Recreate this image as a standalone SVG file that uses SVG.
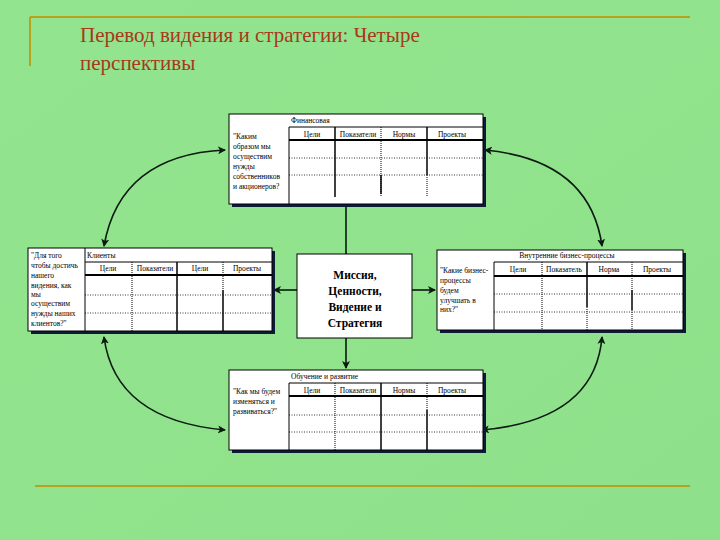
<svg xmlns="http://www.w3.org/2000/svg" width="720" height="540" viewBox="0 0 720 540">
<defs>
<marker id="ah" markerWidth="8" markerHeight="8" refX="7" refY="4" orient="auto-start-reverse" markerUnits="userSpaceOnUse"><path d="M0,0 L8,4 L0,8 L2,4 z" fill="#0a1a10"/></marker>
<linearGradient id="bg" x1="0" y1="0" x2="1" y2="1"><stop offset="0" stop-color="#92e58e"/><stop offset="1" stop-color="#8fe08a"/></linearGradient>
</defs>
<style>
.t{font-family:"Liberation Serif",serif;font-size:7.5px;fill:#000}
.box{fill:#fff;stroke:#000;stroke-width:1}
.sh{fill:#0d1a3a}
.col{stroke:#000;stroke-width:1.5}
.colg{stroke:#000;stroke-width:1;stroke-dasharray:1,1}
.row{stroke:#000;stroke-width:0.8;stroke-dasharray:1,1.5}
.hl{stroke:#000;stroke-width:1}
.hb{stroke:#000;stroke-width:2}
.con{fill:none;stroke:#0a1a10;stroke-width:1.6}
.gl{stroke:#b8a020;stroke-width:2}
</style>
<rect width="720" height="540" fill="url(#bg)"/>
<line class="gl" x1="30" y1="17" x2="690" y2="17"/>
<line class="gl" x1="30" y1="17" x2="30" y2="66"/>
<line class="gl" x1="35" y1="486" x2="690" y2="486"/>
<text x="80" y="42" font-family="Liberation Serif,serif" font-size="21" fill="#a8381a">Перевод видения и стратегии: Четыре</text>
<text x="80" y="70" font-family="Liberation Serif,serif" font-size="21" fill="#a8381a">перспективы</text>

<g id="connectors">
<line class="con" x1="346" y1="204" x2="346" y2="254"/>
<line class="con" x1="346" y1="338" x2="346" y2="368" marker-end="url(#ah)"/>
<line class="con" x1="297" y1="290" x2="274" y2="290" marker-end="url(#ah)"/>
<line class="con" x1="412" y1="290" x2="435" y2="290" marker-end="url(#ah)"/>
<path class="con" d="M225,150 Q120,155 104,246" marker-start="url(#ah)" marker-end="url(#ah)"/>
<path class="con" d="M485,150 Q590,160 602,246" marker-start="url(#ah)" marker-end="url(#ah)"/>
<path class="con" d="M104,337 Q115,420 225,430" marker-start="url(#ah)" marker-end="url(#ah)"/>
<path class="con" d="M602,337 Q595,420 482,430" marker-start="url(#ah)" marker-end="url(#ah)"/>
</g>

<g id="financial">
<rect class="sh" x="232" y="117" width="254" height="90"/>
<rect class="box" x="229" y="114" width="254" height="90"/>
<text class="t" x="291" y="123">Финансовая</text>
<line class="hl" x1="289" y1="127" x2="483" y2="127"/>
<line class="hb" x1="289" y1="140" x2="483" y2="140"/>
<line class="hl" x1="289" y1="127" x2="289" y2="204"/>
<line class="row" x1="289" y1="158" x2="483" y2="158"/>
<line class="row" x1="289" y1="175" x2="483" y2="175"/>
<line class="col" x1="335" y1="127" x2="335" y2="197"/>
<line class="colg" x1="381" y1="127" x2="381" y2="197"/>
<line class="col" x1="381" y1="175" x2="381" y2="194"/>
<line class="col" x1="427" y1="127" x2="427" y2="175"/>
<line class="colg" x1="427" y1="175" x2="427" y2="197"/>
<text class="t" x="312" y="137" text-anchor="middle">Цели</text>
<text class="t" x="358" y="137" text-anchor="middle">Показатели</text>
<text class="t" x="404" y="137" text-anchor="middle">Нормы</text>
<text class="t" x="452" y="137" text-anchor="middle">Проекты</text>
<text class="t" x="233" y="139">"Каким</text>
<text class="t" x="233" y="149">образом мы</text>
<text class="t" x="233" y="159">осуществим</text>
<text class="t" x="233" y="169">нужды</text>
<text class="t" x="233" y="179">собственников</text>
<text class="t" x="233" y="189">и акционеров?</text>
</g>

<g id="clients">
<rect class="sh" x="31" y="251" width="244" height="83"/>
<rect class="box" x="28" y="248" width="244" height="83"/>
<text class="t" x="87" y="258">Клиенты</text>
<line class="hl" x1="85" y1="262" x2="272" y2="262"/>
<line class="hb" x1="85" y1="275" x2="272" y2="275"/>
<line class="hl" x1="85" y1="248" x2="85" y2="331"/>
<line class="row" x1="85" y1="295" x2="272" y2="295"/>
<line class="row" x1="85" y1="313" x2="272" y2="313"/>
<line class="colg" x1="132" y1="262" x2="132" y2="331"/>
<line class="col" x1="177" y1="262" x2="177" y2="331"/>
<line class="colg" x1="223" y1="262" x2="223" y2="290"/>
<line class="col" x1="223" y1="290" x2="223" y2="331"/>
<text class="t" x="108" y="271" text-anchor="middle">Цели</text>
<text class="t" x="155" y="271" text-anchor="middle">Показатели</text>
<text class="t" x="200" y="271" text-anchor="middle">Цели</text>
<text class="t" x="247" y="271" text-anchor="middle">Проекты</text>
<text class="t" x="31" y="258">"Для того</text>
<text class="t" x="31" y="268">чтобы достичь</text>
<text class="t" x="31" y="278">нашего</text>
<text class="t" x="31" y="288">видения, как</text>
<text class="t" x="31" y="297">мы</text>
<text class="t" x="31" y="306">осуществим</text>
<text class="t" x="31" y="316">нужды наших</text>
<text class="t" x="31" y="326">клиентов?"</text>
</g>

<g id="internal">
<rect class="sh" x="440" y="253" width="246" height="80"/>
<rect class="box" x="437" y="250" width="246" height="80"/>
<text class="t" x="567" y="258" text-anchor="middle">Внутренние бизнес-процессы</text>
<line class="hl" x1="494" y1="262" x2="683" y2="262"/>
<line class="hb" x1="494" y1="276" x2="683" y2="276"/>
<line class="hl" x1="494" y1="262" x2="494" y2="330"/>
<line class="row" x1="494" y1="294" x2="683" y2="294"/>
<line class="row" x1="494" y1="312" x2="683" y2="312"/>
<line class="colg" x1="542" y1="262" x2="542" y2="330"/>
<line class="col" x1="587" y1="262" x2="587" y2="307"/>
<line class="colg" x1="587" y1="307" x2="587" y2="330"/>
<line class="colg" x1="632" y1="262" x2="632" y2="290"/>
<line class="col" x1="632" y1="290" x2="632" y2="310"/>
<line class="colg" x1="632" y1="310" x2="632" y2="330"/>
<text class="t" x="518" y="272" text-anchor="middle">Цели</text>
<text class="t" x="564" y="272" text-anchor="middle">Показатель</text>
<text class="t" x="609" y="272" text-anchor="middle">Норма</text>
<text class="t" x="657" y="272" text-anchor="middle">Проекты</text>
<text class="t" x="440" y="273">"Какие бизнес-</text>
<text class="t" x="440" y="283">процессы</text>
<text class="t" x="440" y="293">будем</text>
<text class="t" x="440" y="303">улучшать в</text>
<text class="t" x="440" y="312">них?"</text>
</g>

<g id="learning">
<rect class="sh" x="232" y="373" width="254" height="80"/>
<rect class="box" x="229" y="370" width="254" height="80"/>
<text class="t" x="291" y="379">Обучение и развитие</text>
<line class="hl" x1="289" y1="383" x2="483" y2="383"/>
<line class="hb" x1="289" y1="396" x2="483" y2="396"/>
<line class="hl" x1="289" y1="383" x2="289" y2="450"/>
<line class="row" x1="289" y1="415" x2="483" y2="415"/>
<line class="row" x1="289" y1="432" x2="483" y2="432"/>
<line class="colg" x1="335" y1="383" x2="335" y2="450"/>
<line class="col" x1="381" y1="383" x2="381" y2="450"/>
<line class="colg" x1="427" y1="383" x2="427" y2="410"/>
<line class="col" x1="427" y1="410" x2="427" y2="450"/>
<text class="t" x="312" y="393" text-anchor="middle">Цели</text>
<text class="t" x="358" y="393" text-anchor="middle">Показатели</text>
<text class="t" x="404" y="393" text-anchor="middle">Нормы</text>
<text class="t" x="452" y="393" text-anchor="middle">Проекты</text>
<text class="t" x="233" y="394">"Как мы будем</text>
<text class="t" x="233" y="404">изменяться и</text>
<text class="t" x="233" y="414">развиваться?"</text>
</g>

<g id="mission">
<rect x="297" y="254" width="115" height="84" fill="#fff" stroke="#000" stroke-width="1"/>
<g font-family="Liberation Serif,serif" font-size="11.5" font-weight="bold" text-anchor="middle" fill="#000">
<text x="355" y="279">Миссия,</text>
<text x="355" y="295">Ценности,</text>
<text x="355" y="311">Видение и</text>
<text x="355" y="327">Стратегия</text>
</g>
</g>
</svg>
